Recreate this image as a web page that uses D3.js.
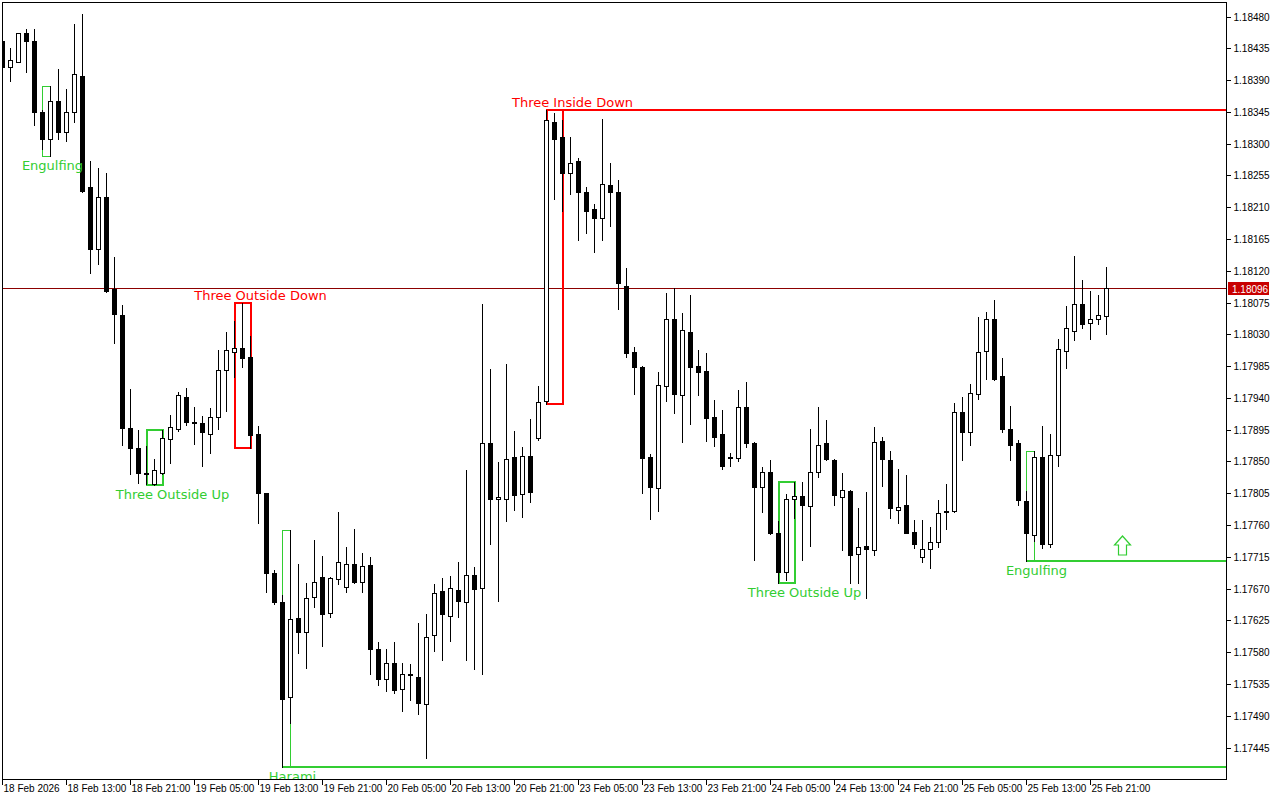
<!DOCTYPE html>
<html><head><meta charset="utf-8">
<script src="https://cdn.jsdelivr.net/npm/d3@7"></script>
<style>body{margin:0;background:#fff;overflow:hidden} svg{display:block}</style>
</head><body>
<script>
// ---- DATA (EURUSD H1, 18 Feb 05:00 .. 25 Feb 23:00) ----
const opens = [1.18445,1.18409,1.18416,1.18456,1.18446,1.18345,1.18307,1.18360,1.18317,1.18345,
1.18396,1.18238,1.18151,1.18225,1.18094,1.18058,1.17897,1.17869,1.17834,1.17818,
1.17834,1.17882,1.17896,1.17941,1.17906,1.17905,1.17889,1.17913,1.17980,1.18005,
1.18011,1.17998,1.17889,1.17805,1.17692,1.17651,1.17516,1.17628,1.17608,1.17658,
1.17686,1.17635,1.17684,1.17672,1.17705,1.17679,1.17703,1.17584,1.17542,1.17564,
1.17528,1.17549,1.17545,1.17506,1.17604,1.17667,1.17631,1.17668,1.17651,1.17689,
1.17671,1.17876,1.17797,1.17797,1.17856,1.17804,1.17858,1.17883,1.17936,1.18331,
1.18310,1.18259,1.18275,1.18232,1.18207,1.18194,1.18241,1.18232,1.18099,1.18005,
1.17984,1.17856,1.17812,1.17957,1.18052,1.17944,1.18034,1.17985,1.17978,1.17913,
1.17889,1.17856,1.17855,1.17927,1.17876,1.17814,1.17835,1.17749,1.17693,1.17797,
1.17801,1.17787,1.17835,1.17876,1.17852,1.17800,1.17808,1.17719,1.17730,1.17725,
1.17879,1.17852,1.17781,1.17788,1.17750,1.17715,1.17726,1.17736,1.17780,1.17780,
1.17920,1.17892,1.17946,1.18007,1.18051,1.17971,1.17896,1.17876,1.17794,1.17746,
1.17856,1.17733,1.17859,1.18007,1.18035,1.18073,1.18046,1.18052,1.18056];
const highs = [1.18447,1.18436,1.18457,1.18462,1.18462,1.18348,1.18382,1.18406,1.18377,1.18470,
1.18484,1.18276,1.18266,1.18259,1.18140,1.18072,1.17953,1.17895,1.17872,1.17854,
1.17895,1.17916,1.17949,1.17954,1.17927,1.17915,1.17926,1.18008,1.18034,1.18049,
1.18075,1.18028,1.17900,1.17805,1.17696,1.17661,1.17753,1.17705,1.17678,1.17739,
1.17716,1.17686,1.17778,1.17729,1.17754,1.17720,1.17715,1.17594,1.17584,1.17594,
1.17564,1.17563,1.17621,1.17634,1.17676,1.17685,1.17688,1.17708,1.17838,1.17701,
1.18073,1.17981,1.17849,1.17988,1.17893,1.17871,1.17910,1.17957,1.18347,1.18344,
1.18334,1.18310,1.18279,1.18238,1.18214,1.18335,1.18272,1.18248,1.18124,1.18012,
1.17985,1.17861,1.17977,1.18089,1.18096,1.18060,1.18085,1.18008,1.18004,1.17937,
1.17923,1.17862,1.17951,1.17963,1.17878,1.17842,1.17852,1.17766,1.17804,1.17821,
1.17821,1.17896,1.17927,1.17909,1.17854,1.17834,1.17810,1.17784,1.17807,1.17899,
1.17885,1.17865,1.17839,1.17831,1.17767,1.17767,1.17757,1.17795,1.17818,1.17933,
1.17941,1.17960,1.18055,1.18062,1.18078,1.17997,1.17929,1.17880,1.17808,1.17865,
1.17900,1.17889,1.18024,1.18070,1.18141,1.18107,1.18092,1.18086,1.18126];
const lows = [1.18408,1.18389,1.18415,1.18401,1.18327,1.18292,1.18283,1.18307,1.18304,1.18331,
1.18232,1.18117,1.18130,1.18090,1.18018,1.17873,1.17832,1.17819,1.17818,1.17817,
1.17832,1.17848,1.17893,1.17902,1.17875,1.17844,1.17862,1.17896,1.17922,1.17970,
1.17984,1.17869,1.17763,1.17665,1.17648,1.17417,1.17479,1.17579,1.17557,1.17644,
1.17589,1.17630,1.17676,1.17665,1.17678,1.17665,1.17549,1.17533,1.17525,1.17522,
1.17496,1.17512,1.17492,1.17430,1.17581,1.17569,1.17596,1.17630,1.17569,1.17556,
1.17549,1.17733,1.17652,1.17766,1.17781,1.17771,1.17793,1.17880,1.17932,1.18222,
1.18204,1.18229,1.18164,1.18174,1.18147,1.18163,1.18184,1.18066,1.17998,1.17946,
1.17805,1.17769,1.17780,1.17936,1.17919,1.17878,1.17903,1.17944,1.17879,1.17872,
1.17839,1.17844,1.17851,1.17871,1.17710,1.17778,1.17747,1.17678,1.17682,1.17770,
1.17710,1.17730,1.17828,1.17852,1.17788,1.17725,1.17678,1.17678,1.17657,1.17718,
1.17815,1.17770,1.17763,1.17749,1.17727,1.17708,1.17699,1.17729,1.17754,1.17778,
1.17852,1.17873,1.17939,1.17967,1.17966,1.17892,1.17852,1.17788,1.17709,1.17737,
1.17727,1.17729,1.17844,1.17983,1.18022,1.18039,1.18024,1.18045,1.18031];
const closes = [1.18409,1.18418,1.18456,1.18445,1.18345,1.18307,1.18360,1.18317,1.18345,1.18398,
1.18233,1.18151,1.18225,1.18092,1.18059,1.17897,1.17869,1.17834,1.17832,1.17838,
1.17883,1.17899,1.17944,1.17906,1.17905,1.17892,1.17913,1.17980,1.18008,1.18011,
1.17997,1.17888,1.17805,1.17692,1.17651,1.17513,1.17627,1.17608,1.17657,1.17679,
1.17634,1.17685,1.17708,1.17705,1.17679,1.17702,1.17584,1.17542,1.17564,1.17526,
1.17549,1.17547,1.17508,1.17601,1.17664,1.17634,1.17671,1.17652,1.17689,1.17669,
1.17876,1.17797,1.17800,1.17854,1.17802,1.17858,1.17807,1.17934,1.18333,1.18306,
1.18259,1.18273,1.18231,1.18205,1.18194,1.18243,1.18232,1.18102,1.18004,1.17984,
1.17855,1.17814,1.17958,1.18052,1.17946,1.18036,1.17984,1.17977,1.17912,1.17885,
1.17844,1.17855,1.17927,1.17876,1.17814,1.17835,1.17749,1.17693,1.17797,1.17801,
1.17788,1.17835,1.17873,1.17854,1.17802,1.17810,1.17718,1.17729,1.17726,1.17878,
1.17854,1.17784,1.17786,1.17749,1.17733,1.17726,1.17736,1.17777,1.17778,1.17920,
1.17892,1.17947,1.18005,1.18052,1.17967,1.17896,1.17873,1.17795,1.17749,1.17856,
1.17733,1.17859,1.18009,1.18039,1.18073,1.18045,1.18052,1.18058,1.18096];

const timeTickLabels = ["18 Feb 2026","18 Feb 13:00","18 Feb 21:00","19 Feb 05:00","19 Feb 13:00",
"19 Feb 21:00","20 Feb 05:00","20 Feb 13:00","20 Feb 21:00","23 Feb 05:00","23 Feb 13:00",
"23 Feb 21:00","24 Feb 05:00","24 Feb 13:00","24 Feb 21:00","25 Feb 05:00","25 Feb 13:00","25 Feb 21:00"];
const timeTickBars = [0,8,16,24,32,40,48,56,64,72,80,88,96,104,112,120,128,136];
const priceTicks = [1.17445,1.17490,1.17535,1.17580,1.17625,1.17670,1.17715,1.17760,1.17805,1.17850,
1.17895,1.17940,1.17985,1.18030,1.18075,1.18120,1.18165,1.18210,1.18255,1.18300,1.18345,1.18390,1.18435,1.18480];
const currentPrice = 1.18096;

const patternNames  = ["Engulfing","Three Outside Up","Three Outside Down","Harami","Three Inside Down","Three Outside Up","Engulfing"];
const patternStart  = [5,18,29,35,68,97,128];
const patternEnd    = [6,20,31,36,70,99,129];
const patternBull   = [true,true,false,true,false,true,true];
const patternExtend = [false,false,false,true,true,false,true];
const signalArrowBar = 140;

// ---- LAYOUT ----
const W = 1280, H = 800;
const PL = 2, PR = 1226, PT = 2, PB = 779;
const GREEN = "#32CD32", RED = "#FF0000";

const svg = d3.select("body").append("svg").attr("width", W).attr("height", H)
  .style("font-family", "'Liberation Sans', Arial, sans-serif");

const x = d3.scaleLinear().domain([0, 138]).range([2.5, 1106.5]);
const y = d3.scaleLinear().domain([1.17445, 1.18480]).range([747.5, 16.5]);
const Y = v => Math.round(y(v));

svg.append("defs").append("clipPath").attr("id", "plot")
  .append("rect").attr("x", PL).attr("y", PT).attr("width", PR - PL).attr("height", PB - PT);

const plot = svg.append("g").attr("clip-path", "url(#plot)").attr("shape-rendering", "crispEdges");

const bars = d3.range(opens.length).map(i => ({i, o: opens[i], h: highs[i], l: lows[i], c: closes[i]}));

// current price line
plot.append("line").attr("x1", PL).attr("x2", PR)
  .attr("y1", Y(currentPrice) + 0.5).attr("y2", Y(currentPrice) + 0.5)
  .attr("stroke", "#8C0000").attr("stroke-width", 1);

// pattern boxes
const pats = patternNames.map((n, k) => {
  const s = patternStart[k], e = patternEnd[k];
  const hi = d3.max(highs.slice(s, e + 1)), lo = d3.min(lows.slice(s, e + 1));
  return {n, s, e, hi, lo, bull: patternBull[k], ext: patternExtend[k], three: e - s === 2};
});

pats.forEach(p => {
  const col = p.bull ? GREEN : RED;
  const sw = p.three ? 2 : 1;
  const x0 = x(p.s), x1 = x(p.e), y0 = Y(p.hi), y1 = Y(p.lo);
  plot.append("rect").attr("x", x0).attr("y", y0).attr("width", x1 - x0).attr("height", y1 - y0)
    .attr("fill", "none").attr("stroke", col).attr("stroke-width", sw);
  if (p.ext) {
    const ye = p.bull ? y1 : y0;
    plot.append("line").attr("x1", x0).attr("x2", PR).attr("y1", ye).attr("y2", ye)
      .attr("stroke", col).attr("stroke-width", 2);
  }
});

// candles
const cg = plot.append("g");
bars.forEach(d => {
  const cx = x(d.i);
  const yh = Y(d.h), yl = Y(d.l);
  cg.append("rect").attr("x", cx - 0.5).attr("y", yh).attr("width", 1).attr("height", Math.max(1, yl - yh + 1)).attr("fill", "#000");
  const top = Y(Math.max(d.o, d.c)), bot = Y(Math.min(d.o, d.c));
  if (d.c > d.o) {
    cg.append("rect").attr("x", cx - 2).attr("y", top + 0.5).attr("width", 4).attr("height", Math.max(1, bot - top))
      .attr("fill", "#fff").attr("stroke", "#000").attr("stroke-width", 1);
  } else {
    cg.append("rect").attr("x", cx - 2.5).attr("y", top).attr("width", 5).attr("height", Math.max(1, bot - top + 1)).attr("fill", "#000");
  }
});

// pattern labels
const lg = svg.append("g").attr("clip-path", "url(#plot)").style("font-family", "'DejaVu Sans', Verdana, sans-serif").style("font-size", "13px");
pats.forEach(p => {
  const cxm = (x(p.s) + x(p.e)) / 2 + (p.three ? 18 : 6);
  const ty = p.bull ? Y(p.lo) + 9 : Y(p.hi) - 8;
  lg.append("text").attr("x", cxm).attr("y", ty).attr("text-anchor", "middle").attr("dominant-baseline", "central")
    .attr("fill", p.bull ? GREEN : RED).text(p.n);
});

// signal arrow (hollow up arrow) above the last engulfing line
{
  const last = pats[pats.length - 1];
  const ax = x(signalArrowBar), ab = Y(last.lo) - 6;
  const pts = [[ax, ab - 19], [ax + 8, ab - 10], [ax + 4, ab - 10], [ax + 4, ab], [ax - 4, ab], [ax - 4, ab - 10], [ax - 8, ab - 10]];
  svg.append("path").attr("d", "M" + pts.map(p => p.join(",")).join("L") + "Z")
    .attr("fill", "#fff").attr("stroke", GREEN).attr("stroke-width", 1.2);
}

// frame
svg.append("rect").attr("x", PL + 0.5).attr("y", PT + 0.5).attr("width", PR - PL).attr("height", PB - PT)
  .attr("fill", "none").attr("stroke", "#000").attr("shape-rendering", "crispEdges");

// price axis
const ya = d3.axisRight(y).tickValues(priceTicks).tickFormat(d3.format(".5f")).tickSize(4).tickPadding(3);
const yg = svg.append("g").attr("transform", `translate(${PR + 0.5},0)`).call(ya);
yg.select(".domain").remove();
yg.selectAll(".tick line").attr("stroke", "#000").attr("shape-rendering", "crispEdges");
yg.selectAll(".tick text").attr("fill", "#000").style("font-size", "10px").style("font-family", "'Liberation Sans', Arial, sans-serif");
yg.selectAll(".tick").attr("transform", d => `translate(0,${Y(d) + 0.5})`);

// current price tag
const cpY = Y(currentPrice);
svg.append("rect").attr("x", PR + 2).attr("y", cpY - 6).attr("width", 41).attr("height", 13).attr("fill", "#C80000");
svg.append("text").attr("x", PR + 6).attr("y", cpY + 1).attr("dominant-baseline", "central")
  .attr("fill", "#fff").style("font-size", "10px").text(d3.format(".5f")(currentPrice));

// time axis
const xa = d3.axisBottom(x).tickValues(timeTickBars).tickFormat((d, i) => timeTickLabels[i]).tickSize(5).tickPadding(0);
const xg = svg.append("g").attr("transform", `translate(0,${PB + 0.5})`).call(xa);
xg.select(".domain").remove();
xg.selectAll(".tick line").attr("stroke", "#000").attr("shape-rendering", "crispEdges");
xg.selectAll(".tick").attr("transform", d => `translate(${Math.floor(x(d)) + 0.5},0)`);
xg.selectAll(".tick text").attr("text-anchor", "start").attr("x", 1).attr("fill", "#000")
  .style("font-size", "10px").style("font-family", "'Liberation Sans', Arial, sans-serif");
</script>
</body></html>
